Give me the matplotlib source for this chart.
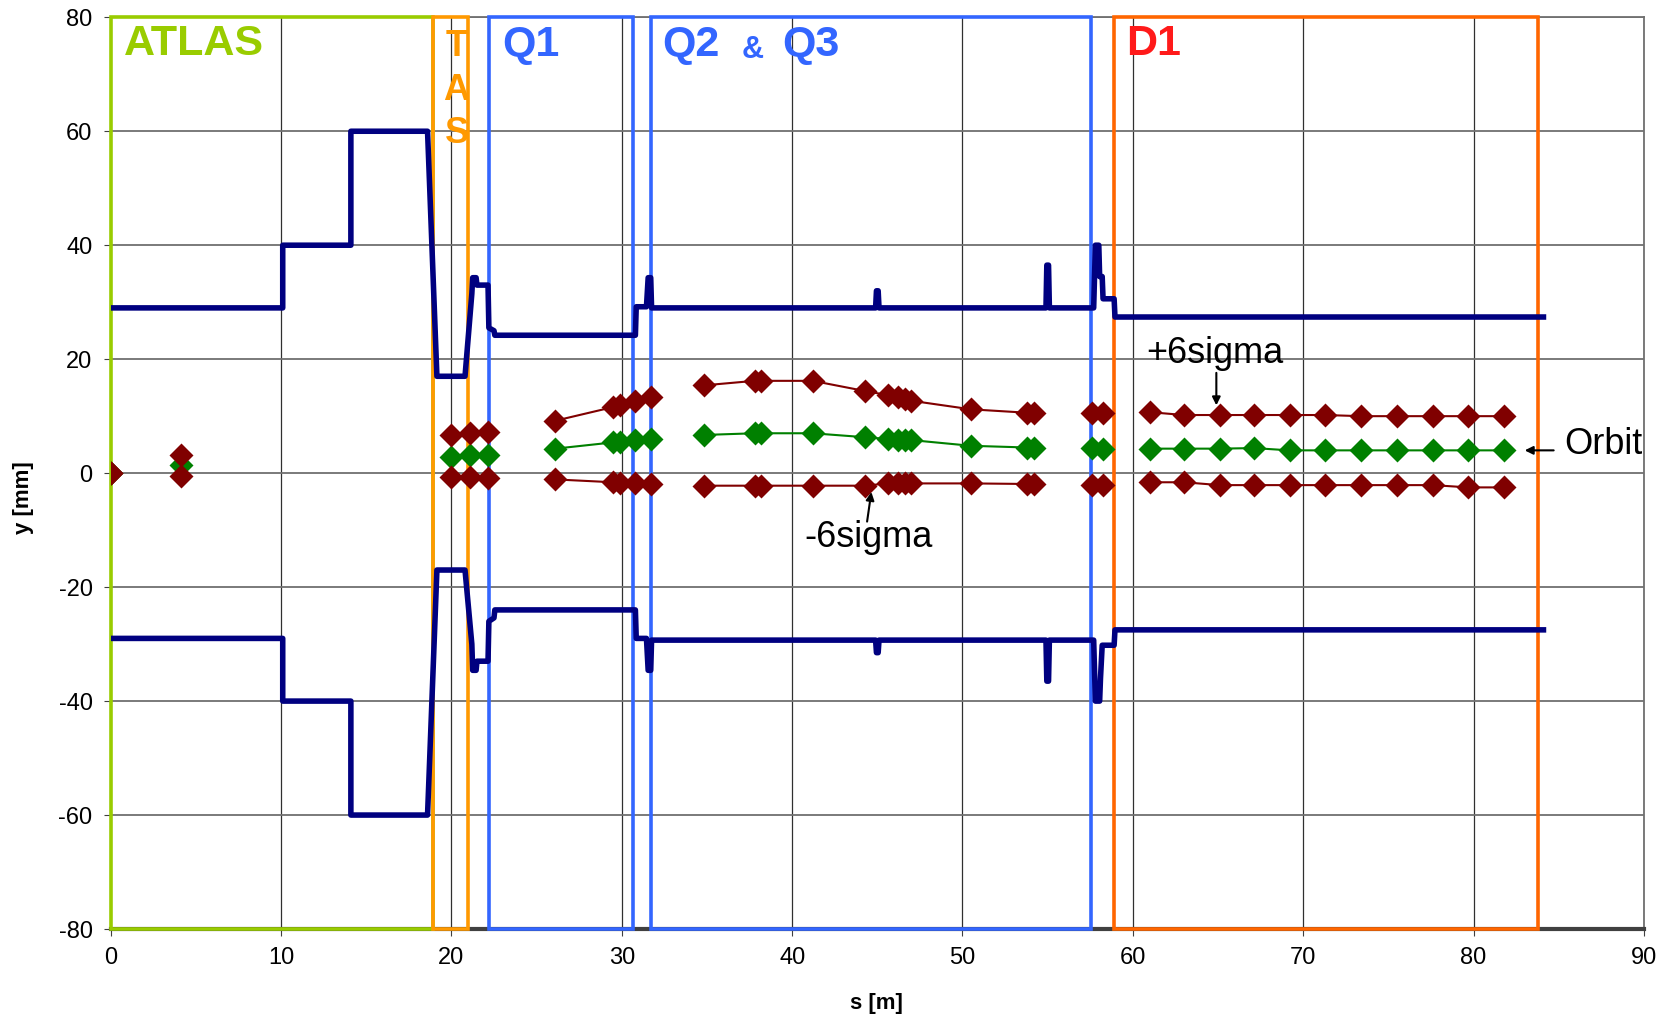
import matplotlib.pyplot as plt
from matplotlib.patches import Rectangle

plt.rcParams['font.family'] = ['Liberation Sans', 'DejaVu Sans']
plt.rcParams['axes.unicode_minus'] = False

# aperture profile (upper / lower beam screen), s in m, y in mm
ap_s_up = [0, 10.1, 10.1, 14.1, 14.1, 18.6, 19.15, 20.8, 21.2, 21.25, 21.45, 21.5, 22.15, 22.2, 22.5,
           22.55, 30.8, 30.85, 31.45, 31.55, 31.7, 31.75, 44.9, 44.95, 45.05, 45.1, 54.9, 54.95,
           55.05, 55.1, 57.7, 57.8, 58.0, 58.05, 58.2, 58.25, 58.9, 58.95, 84.1]
ap_y_up = [29, 29, 40, 40, 60, 60, 17, 17, 31.5, 34.3, 34.3, 33, 33, 25.5, 25,
           24.2, 24.2, 29.2, 29.2, 34.3, 34.3, 29, 29, 32, 32, 29, 29, 36.5,
           36.5, 29, 29, 40, 40, 34.5, 34.5, 30.6, 30.6, 27.4, 27.4]
ap_s_lo = [0, 10.1, 10.1, 14.1, 14.1, 18.6, 19.15, 20.8, 21.2, 21.25, 21.45, 21.5, 22.15, 22.2, 22.5,
           22.55, 30.8, 30.85, 31.45, 31.55, 31.7, 31.75, 44.9, 44.95, 45.05, 45.1, 54.9, 54.95,
           55.05, 55.1, 57.7, 57.8, 58.05, 58.1, 58.2, 58.9, 58.95, 84.1]
ap_y_lo = [-29, -29, -40, -40, -60, -60, -17, -17, -30, -34.6, -34.6, -33, -33, -26, -25.4,
           -24, -24, -29, -29, -34.6, -34.6, -29.3, -29.3, -31.5, -31.5, -29.3, -29.3, -36.5,
           -36.5, -29.3, -29.3, -40, -40, -36, -30.2, -30.2, -27.5, -27.5]

# beam envelope points
pt_s = [0, 4.1, 20.0, 21.1, 22.15, 26.1, 29.5, 29.9, 30.8, 31.7,
        34.8, 37.8, 38.2, 41.2, 44.3, 45.6, 46.2, 46.6, 47.0, 50.5, 53.8, 54.2,
        57.6, 58.25,
        61.0, 63.0, 65.1, 67.1, 69.2, 71.3, 73.4, 75.5, 77.6, 79.7, 81.8]
pt_group = [0, 1, 2, 2, 2, 3, 3, 3, 3, 3,
            4, 4, 4, 4, 4, 4, 4, 4, 4, 4, 4, 4,
            5, 5,
            6, 6, 6, 6, 6, 6, 6, 6, 6, 6, 6]
plus6 = [0, 3.2, 6.7, 7.1, 7.3, 9.2, 11.6, 12.0, 12.6, 13.4,
         15.4, 16.2, 16.2, 16.2, 14.4, 13.7, 13.3, 13.1, 12.7, 11.2, 10.6, 10.5,
         10.5, 10.5,
         10.7, 10.2, 10.2, 10.2, 10.2, 10.2, 10.0, 10.0, 10.0, 10.0, 10.0]
orbit = [0, 1.4, 2.9, 3.1, 3.2, 4.3, 5.4, 5.5, 5.8, 6.0,
         6.7, 7.0, 7.0, 7.0, 6.3, 6.0, 5.9, 5.9, 5.8, 4.8, 4.5, 4.5,
         4.4, 4.3,
         4.3, 4.3, 4.3, 4.4, 4.0, 4.0, 4.0, 4.0, 4.0, 4.0, 4.0]
minus6 = [0, -0.5, -0.6, -0.7, -0.8, -1.1, -1.6, -1.7, -1.8, -1.9,
          -2.2, -2.2, -2.2, -2.2, -2.2, -1.8, -1.8, -1.8, -1.8, -1.8, -1.9, -1.9,
          -2.0, -2.0,
          -1.6, -1.6, -2.1, -2.1, -2.1, -2.1, -2.1, -2.1, -2.1, -2.5, -2.5]

# element boxes
box_start = [0, 18.9, 22.2, 31.7, 58.9]
box_end = [18.9, 21.0, 30.65, 57.55, 83.8]
box_color = ['#99cc00', '#ff9900', '#3366ff', '#3366ff', '#ff6600']

fig = plt.figure(figsize=(16.69, 10.16), dpi=100)
ax = fig.add_axes([0.0663, 0.0856, 0.9187, 0.8974])

ax.set_xlim(0, 90)
ax.set_ylim(-80, 80)
ax.set_xticks(range(0, 91, 10))
ax.set_yticks(range(-80, 81, 20))
ax.tick_params(labelsize=17, direction='out', length=5, color='#404040', pad=8)
for x in range(10, 91, 10):
    ax.axvline(x, color='#303030', lw=0.9, zorder=0)
for y in range(-60, 81, 20):
    ax.axhline(y, color='#707070', lw=1.3, zorder=0)
for sp in ax.spines.values():
    sp.set_color('#707070')
    sp.set_linewidth(1.3)
ax.spines['bottom'].set_color('#404040')
ax.spines['bottom'].set_linewidth(3)

for a, b, c in zip(box_start, box_end, box_color):
    ax.add_patch(Rectangle((a, -80), b - a, 160, fill=False, edgecolor=c, lw=2.6,
                           zorder=3, clip_on=False))

ax.plot(ap_s_up, ap_y_up, color='#000080', lw=4, zorder=4)
ax.plot(ap_s_lo, ap_y_lo, color='#000080', lw=4, zorder=4)

# draw each group as connected markers
for g in sorted(set(pt_group)):
    idx = [i for i, v in enumerate(pt_group) if v == g]
    xs = [pt_s[i] for i in idx]
    ax.plot(xs, [orbit[i] for i in idx], color='#008000', lw=1.5, marker='D', ms=12,
            mec='none', zorder=5)
    ax.plot(xs, [plus6[i] for i in idx], color='#800000', lw=1.5, marker='D', ms=12,
            mec='none', zorder=6)
    ax.plot(xs, [minus6[i] for i in idx], color='#800000', lw=1.5, marker='D', ms=12,
            mec='none', zorder=6)

# element labels
ax.text(0.8, 75.3, 'ATLAS', color='#99cc00', fontsize=31, fontweight='bold', va='center')
for letter, y in zip('TAS', [74.8, 67.2, 59.6]):
    ax.text(20.3, y, letter, color='#ff9900', fontsize=26, fontweight='bold',
            ha='center', va='center')
ax.text(23.0, 75.1, 'Q1', color='#3366ff', fontsize=31, fontweight='bold', va='center')
ax.text(32.4, 75.1, 'Q2', color='#3366ff', fontsize=31, fontweight='bold', va='center')
ax.text(37.7, 74.2, '&', color='#3366ff', fontsize=22, fontweight='bold',
        ha='center', va='center')
ax.text(39.4, 75.1, 'Q3', color='#3366ff', fontsize=31, fontweight='bold', va='center')
ax.text(59.6, 75.3, 'D1', color='#ff1a1a', fontsize=31, fontweight='bold', va='center')

arrow = dict(arrowstyle='-|>', color='black', lw=1.5, mutation_scale=12,
             shrinkA=0, shrinkB=0)
ax.annotate('', xy=(64.9, 11.9), xytext=(64.9, 17.6), arrowprops=arrow, zorder=7)
ax.text(64.8, 21.0, '+6sigma', fontsize=26, ha='center', va='center')
ax.annotate('', xy=(44.65, -3.3), xytext=(44.4, -8.5), arrowprops=arrow, zorder=7)
ax.text(44.5, -11.3, '-6sigma', fontsize=26, ha='center', va='center')
ax.annotate('', xy=(83.0, 4.0), xytext=(84.7, 4.0), arrowprops=arrow, zorder=7,
            annotation_clip=False)
ax.text(85.3, 5.0, 'Orbit', fontsize=26, ha='left', va='center')

fig.text(0.014, 0.51, 'y [mm]', rotation=90, fontsize=16, fontweight='bold',
         ha='center', va='center')
fig.text(0.525, 0.012, 's [m]', fontsize=16, fontweight='bold', ha='center', va='center')

fig.savefig('out.png', dpi=100)
